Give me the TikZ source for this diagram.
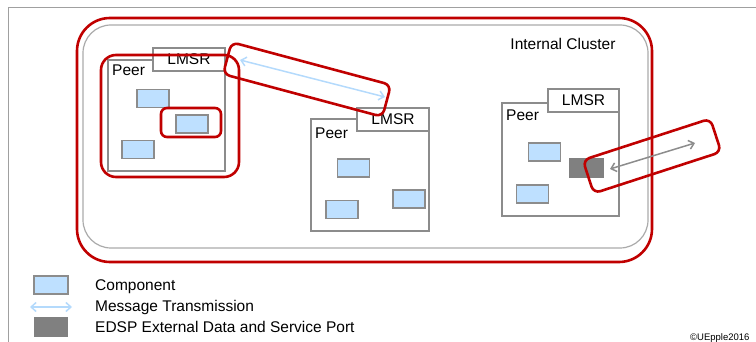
\documentclass[tikz,border=0pt]{standalone}
\usepackage{fontspec}
\setmainfont{Liberation Sans}
\usetikzlibrary{arrows.meta}
\definecolor{hired}{RGB}{192,0,0}
\definecolor{boxgray}{RGB}{140,140,140}
\definecolor{clustergray}{RGB}{170,170,170}
\definecolor{framegray}{RGB}{160,160,160}
\definecolor{compblue}{RGB}{190,224,255}
\definecolor{msgblue}{RGB}{180,218,252}
\definecolor{portgray}{RGB}{128,128,128}
\begin{document}
\begin{tikzpicture}[x=1pt,y=-1pt,
  every node/.style={font=\fontsize{15.5}{18}\selectfont},
  comp/.style={draw=boxgray, fill=compblue, line width=1.5pt, minimum width=32pt, minimum height=18pt, inner sep=0pt},
  port/.style={fill=portgray, minimum width=35pt, minimum height=20pt, inner sep=0pt},
  peerbox/.style={draw=boxgray, fill=white, line width=1.8pt, inner sep=0pt},
  lmsrbox/.style={draw=boxgray, fill=white, line width=1.8pt, inner sep=0pt, minimum width=72pt, minimum height=23pt},
  lbl/.style={anchor=west, inner sep=0pt},
  hilite/.style={draw=hired, line width=2.6pt, inner sep=0pt},
  msgarrow/.style={draw=msgblue, line width=1.5pt, {Straight Barb[length=5pt,width=9pt]}-{Straight Barb[length=5pt,width=9pt]}},
  portarrow/.style={draw=boxgray, line width=1.5pt, {Straight Barb[length=5pt,width=9pt]}-{Straight Barb[length=5pt,width=9pt]}}
]
\useasboundingbox (0,0) rectangle (756,342);

% page frame
\draw[framegray, line width=1pt] (8,342) -- (8,8) -- (756,8);

% cluster outlines
\node[hilite, rounded corners=33pt, minimum width=575pt, minimum height=244pt] (outer) at (364.5,140) {};
\node[draw=clustergray, line width=1.2pt, inner sep=0pt, rounded corners=28pt, minimum width=565pt, minimum height=223pt] (cluster) at (365.5,136.5) {};
\node (clustername) at (563,44) {Internal Cluster};

% peer 1
\node[peerbox, minimum width=117pt, minimum height=111pt] (peer1) at (166.5,115.5) {};
\node[lmsrbox] (lmsr1) at (189,59.5) {LMSR};
\node[lbl] (peerlbl1) at (112,70) {Peer};
\node[comp] (c1a) at (153,98.5) {};
\node[comp] (c1b) at (192,124) {};
\node[comp] (c1c) at (138,149.5) {};

% peer 2
\node[peerbox, minimum width=118pt, minimum height=112pt] (peer2) at (370,175) {};
\node[lmsrbox] (lmsr2) at (393,119.5) {LMSR};
\node[lbl] (peerlbl2) at (315,133) {Peer};
\node[comp] (c2a) at (353.5,168) {};
\node[comp] (c2b) at (409,199) {};
\node[comp] (c2c) at (342,209.5) {};

% peer 3
\node[peerbox, minimum width=117pt, minimum height=113pt] (peer3) at (560.5,159.5) {};
\node[lmsrbox, minimum width=71pt] (lmsr3) at (583.5,100.5) {LMSR};
\node[lbl] (peerlbl3) at (506,115) {Peer};
\node[comp] (c3a) at (544.5,152) {};
\node[comp] (c3b) at (532.5,194) {};
\node[port] (edsp) at (586.5,168) {};

% highlights
\node[hilite, rounded corners=15pt, minimum width=138pt, minimum height=122pt] (hlpeer) at (170,116) {};
\node[hilite, rounded corners=6pt, minimum width=60pt, minimum height=29pt] (hlcomp) at (191,122.5) {};
\node[hilite, rounded corners=7pt, minimum width=165pt, minimum height=33pt, rotate=-15] (hlmsg) at (307,79.5) {};
\node[hilite, rounded corners=7pt, minimum width=134pt, minimum height=35pt, rotate=18] (hlport) at (652,156) {};

% transmissions
\coordinate (m1) at (240,60);
\coordinate (m2) at (385,97);
\draw[msgarrow] (m1) -- (m2);
\coordinate (p1) at (610,169);
\coordinate (p2) at (695,143);
\draw[portarrow] (p1) -- (p2);

% legend
\node[comp, minimum width=34pt] (legcomp) at (51,285) {};
\coordinate (legm1) at (30,307);
\coordinate (legm2) at (72,307);
\draw[msgarrow] (legm1) -- (legm2);
\node[port, minimum width=34pt] (legport) at (51,327) {};
\node[lbl] (legtxt1) at (95,287) {Component};
\node[lbl] (legtxt2) at (95,307) {Message Transmission};
\node[lbl] (legtxt3) at (95,327) {EDSP External Data and Service Port};

\node[anchor=base west, inner sep=0pt, font=\fontsize{9.5}{11}\selectfont] (copy) at (690,340) {©UEpple2016};
\end{tikzpicture}
\end{document}
